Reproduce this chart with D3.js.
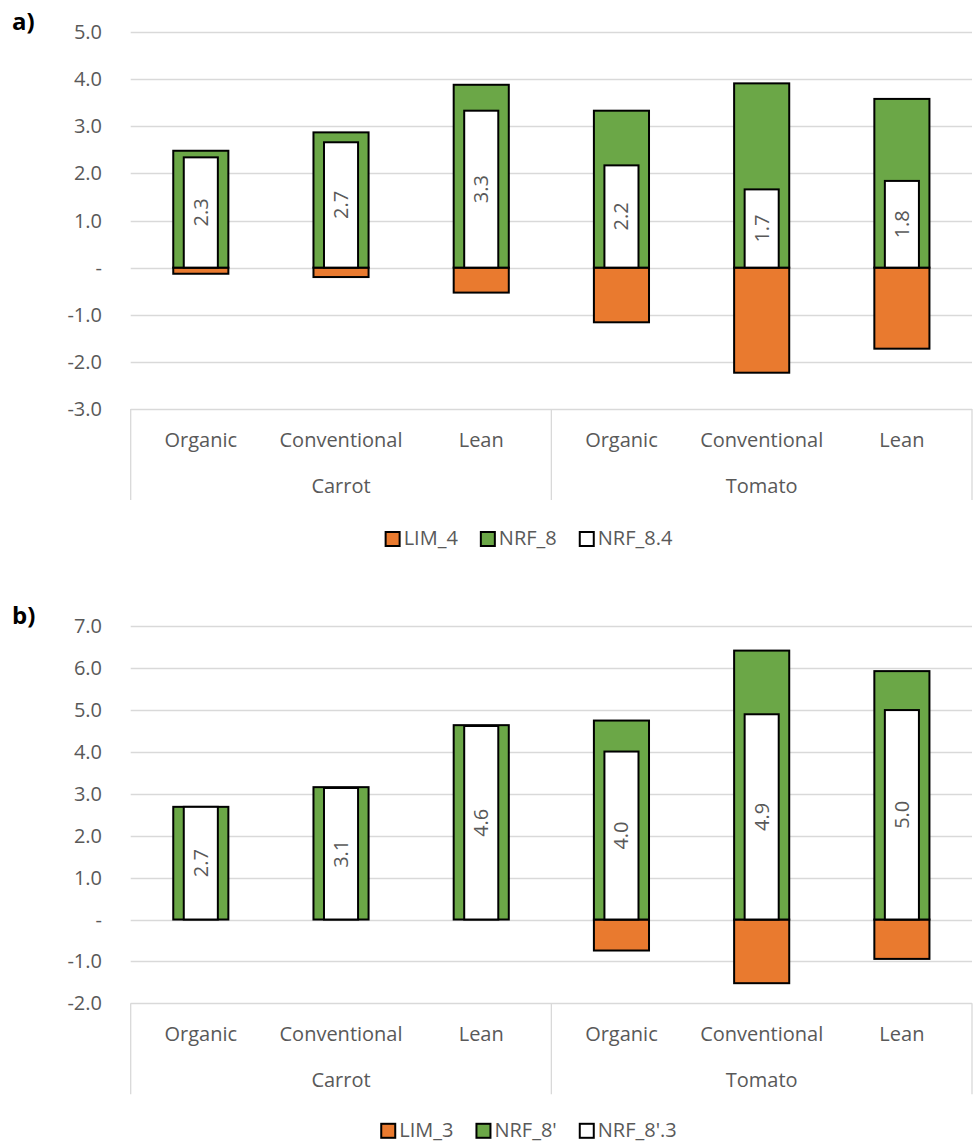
<!DOCTYPE html>
<html>
<head>
<meta charset="utf-8">
<script src="https://cdn.jsdelivr.net/npm/d3@7"></script>
<style>
  body { margin: 0; background: #fff; }
  svg { display: block; }
  text { font-family: "Open Sans", Lato, sans-serif; }
</style>
</head>
<body>
<svg id="chart" width="975" height="1144"></svg>
<script>
// ---- Data ----
const categories = ["Organic", "Conventional", "Lean", "Organic", "Conventional", "Lean"];
const groups = ["Carrot", "Tomato"];

// Panel a
const seriesNamesA = ["LIM_4", "NRF_8", "NRF_8.4"];
const lim4 = [-0.13, -0.20, -0.53, -1.16, -2.23, -1.72];
const nrf8 = [2.48, 2.87, 3.88, 3.33, 3.91, 3.58];
const nrf84 = [2.34, 2.66, 3.33, 2.17, 1.66, 1.84];
const yTicksA = [-3, -2, -1, 0, 1, 2, 3, 4, 5];

// Panel b
const seriesNamesB = ["LIM_3", "NRF_8'", "NRF_8'.3"];
const lim3 = [0, 0, 0, -0.74, -1.52, -0.94];
const nrf8p = [2.69, 3.16, 4.64, 4.75, 6.42, 5.93];
const nrf8p3 = [2.69, 3.14, 4.62, 4.01, 4.90, 5.00];
const yTicksB = [-2, -1, 0, 1, 2, 3, 4, 5, 6, 7];

// ---- Styles ----
const ORANGE = "#E97A2F";
const GREEN = "#6BA747";
const GRID = "#d9d9d9";
const TXT = "#595959";
const FS = 20;

const svg = d3.select("#chart");

function drawPanel(opts) {
  const g = svg.append("g");
  const x = d3.scaleBand().domain(d3.range(categories.length)).range([130.7, 972]).paddingInner(0).paddingOuter(0);
  const y = d3.scaleLinear().domain([opts.ticks[0], opts.ticks[opts.ticks.length - 1]]).range([opts.yBottom, opts.yTop]);
  const bw = x.bandwidth();
  const outerW = bw * 0.393;
  const innerW = bw * 0.243;

  // panel label
  g.append("text").attr("x", 12).attr("y", opts.yTop - 2)
    .attr("font-size", 24).attr("font-weight", "bold").attr("fill", "#000")
    .text(opts.label);

  // gridlines
  g.selectAll("line.grid").data(opts.ticks).join("line")
    .attr("x1", x.range()[0]).attr("x2", x.range()[1])
    .attr("y1", d => Math.round(y(d)) + 0.5).attr("y2", d => Math.round(y(d)) + 0.5)
    .attr("stroke", GRID).attr("stroke-width", 1.3);

  // y tick labels
  g.selectAll("text.ytick").data(opts.ticks).join("text")
    .attr("x", 102).attr("y", d => y(d)).attr("dy", "0.35em")
    .attr("text-anchor", "end").attr("font-size", FS).attr("fill", TXT)
    .text(d => d === 0 ? "-" : d.toFixed(1));

  const y0 = y(0);
  // negative (LIM) bars
  g.selectAll("rect.lim").data(opts.lim).join("rect")
    .attr("x", (d, i) => x(i) + bw / 2 - outerW / 2)
    .attr("width", outerW)
    .attr("y", y0)
    .attr("height", d => Math.max(0, y(d) - y0))
    .attr("fill", ORANGE).attr("stroke", d => d < 0 ? "#000" : "none").attr("stroke-width", 2);

  // outer positive (NRF) bars
  g.selectAll("rect.nrf").data(opts.nrf).join("rect")
    .attr("x", (d, i) => x(i) + bw / 2 - outerW / 2)
    .attr("width", outerW)
    .attr("y", d => y(d))
    .attr("height", d => y0 - y(d))
    .attr("fill", GREEN).attr("stroke", "#000").attr("stroke-width", 2);

  // inner white bars
  g.selectAll("rect.inner").data(opts.inner).join("rect")
    .attr("x", (d, i) => x(i) + bw / 2 - innerW / 2)
    .attr("width", innerW)
    .attr("y", d => y(d))
    .attr("height", d => y0 - y(d))
    .attr("fill", "#fff").attr("stroke", "#000").attr("stroke-width", 2);

  // data labels
  g.selectAll("text.dl").data(opts.inner).join("text")
    .attr("transform", (d, i) => `translate(${x(i) + bw / 2},${(y(d) + y0) / 2}) rotate(-90)`)
    .attr("text-anchor", "middle").attr("dy", "0.35em")
    .attr("font-size", FS).attr("fill", TXT)
    .text(d => d3.format(".1f")(d));

  // category axis box
  const top = opts.yBottom;
  const xs = [x.range()[0], x(3), x.range()[1]];
  g.selectAll("line.sep").data(xs).join("line")
    .attr("x1", d => d).attr("x2", d => d)
    .attr("y1", top).attr("y2", top + 91)
    .attr("stroke", GRID).attr("stroke-width", 1.3);

  g.selectAll("text.cat").data(categories).join("text")
    .attr("x", (d, i) => x(i) + bw / 2).attr("y", top + 31).attr("dy", "0.35em")
    .attr("text-anchor", "middle").attr("font-size", FS).attr("fill", TXT)
    .text(d => d);

  g.selectAll("text.grp").data(groups).join("text")
    .attr("x", (d, i) => (x(i * 3) + x(i * 3 + 2) + bw) / 2).attr("y", top + 77).attr("dy", "0.35em")
    .attr("text-anchor", "middle").attr("font-size", FS).attr("fill", TXT)
    .text(d => d);

  // legend
  const ly = top + opts.legendOffset;
  const fills = [ORANGE, GREEN, "#fff"];
  const lg = g.append("g");
  let cx = 0;
  opts.names.forEach((n, i) => {
    const it = lg.append("g").attr("transform", `translate(${cx},0)`);
    it.append("rect").attr("x", 1).attr("y", ly - 6).attr("width", 14).attr("height", 14)
      .attr("fill", fills[i]).attr("stroke", "#000").attr("stroke-width", 2);
    const t = it.append("text").attr("x", 19).attr("y", ly).attr("dy", "0.35em")
      .attr("font-size", FS).attr("fill", TXT).text(n);
    cx += 19 + t.node().getComputedTextLength() + 22;
  });
  const totalW = cx - 22;
  lg.attr("transform", `translate(${528.5 - totalW / 2},0)`);
}

drawPanel({ label: "a)", ticks: yTicksA, yTop: 32, yBottom: 409, lim: lim4, nrf: nrf8, inner: nrf84, names: seriesNamesA, legendOffset: 129 });
drawPanel({ label: "b)", ticks: yTicksB, yTop: 626.3, yBottom: 1003.3, lim: lim3, nrf: nrf8p, inner: nrf8p3, names: seriesNamesB, legendOffset: 126.5 });
</script>
</body>
</html>
